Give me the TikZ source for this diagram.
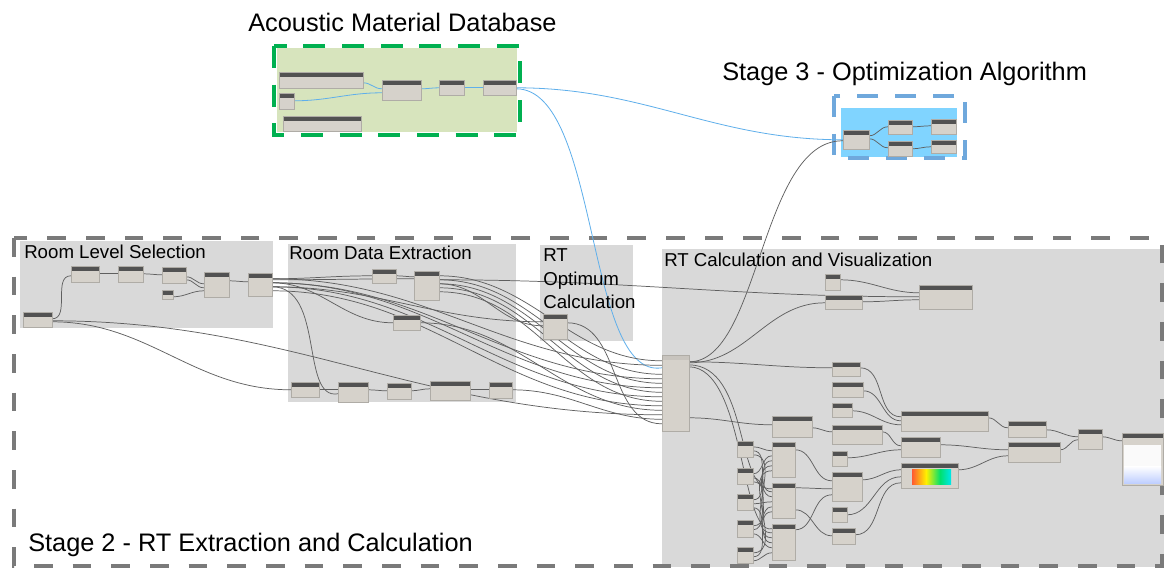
\documentclass[tikz,border=0pt]{standalone}
\usepackage{fontspec}
\setmainfont{Liberation Sans}
\usetikzlibrary{fit,calc}
\definecolor{grnedge}{RGB}{0,176,80}
\definecolor{grnfill}{RGB}{215,228,189}
\definecolor{blueedge}{RGB}{111,168,220}
\definecolor{bluefill}{RGB}{128,212,255}
\definecolor{grayedge}{RGB}{122,122,122}
\definecolor{groupfill}{RGB}{217,217,217}
\definecolor{nodebody}{RGB}{214,210,203}
\definecolor{nodehead}{RGB}{82,82,82}
\definecolor{lighthead}{RGB}{200,196,190}
\definecolor{nodeedge}{RGB}{175,172,166}
\definecolor{wirec}{RGB}{95,95,95}
\definecolor{bluewire}{RGB}{95,175,235}
\definecolor{gOrange}{RGB}{255,90,50}
\definecolor{gYellow}{RGB}{255,240,0}
\definecolor{gGreen}{RGB}{0,225,110}
\definecolor{gCyan}{RGB}{0,230,235}
\pgfdeclarelayer{back}
\pgfdeclarelayer{wires}
\pgfsetlayers{back,wires,main}
\tikzset{
  dyn/.style={draw=nodeedge, line width=0.3pt, fill=nodebody, inner sep=0pt,
    path picture={\fill[nodehead] (path picture bounding box.north west) rectangle ([yshift=-3.6pt]path picture bounding box.north east);}},
  dynlight/.style={path picture={\fill[lighthead] (path picture bounding box.north west) rectangle ([yshift=-3.6pt]path picture bounding box.north east);}},
  wire/.style={draw=wirec, line width=0.55pt},
  bw/.style={draw=bluewire, line width=0.6pt},
  title/.style={font=\fontsize{19}{22}\selectfont, anchor=base west, inner sep=0pt},
  gtitle/.style={font=\fontsize{14}{17}\selectfont, anchor=base west, inner sep=0pt},
  dashgreen/.style={draw=grnedge, line width=3.2pt, dash pattern=on 16.5pt off 12.5pt},
  dashblue/.style={draw=blueedge, line width=3pt, dash pattern=on 15.5pt off 13pt},
  dashgray/.style={draw=grayedge, line width=3.6pt, dash pattern=on 14pt off 15pt},
}
\newcommand\DN[6][]{\node[dyn,#1,fit={(#3,#4)(#5,#6)}] (#2) {};}
\newcommand\W[5][wire]{\draw[#1] ($(#2.north east)+(0,#3)$) to[out=0,in=180] ($(#4.north west)+(0,#5)$);}
\begin{document}
\begin{tikzpicture}[x=0.75pt,y=-0.75pt]
\useasboundingbox (0,0) rectangle (1166,570);

\begin{pgfonlayer}{back}
\fill[white] (0,0) rectangle (1166,570);
\fill[groupfill] (20,241) rectangle (273,328);
\fill[groupfill] (288,244) rectangle (516,402);
\fill[groupfill] (540,245) rectangle (633,341);
\fill[groupfill] (662,249) rectangle (1164,567);
\fill[grnfill] (277,48) rectangle (517,132);
\fill[bluefill] (841,108) rectangle (957,157);
\draw[dashgray] (14,238) rectangle (1162,566);
\draw[dashgreen] (274,46) rectangle (520,135);
\draw[dashblue] (834,96) rectangle (965,158);
\end{pgfonlayer}

% ---------- nodes ----------
% acoustic database
\DN{g1}{279}{72}{363}{88}
\DN{g2}{279}{93}{294}{109}
\DN{g3}{283}{116}{361}{131}
\DN{g4}{382}{80}{421}{100}
\DN{g5}{439}{80}{464}{95}
\DN{g6}{483}{80}{516}{95}
% stage 3
\DN{q1}{843}{130}{869}{149}
\DN{q2}{888}{120}{912}{134}
\DN{q3}{931}{119}{956}{134}
\DN{q4}{888}{141}{912}{156}
\DN{q5}{931}{140}{956}{153}
% room level selection
\DN{sel}{23}{312}{52}{327}
\DN{r1}{71}{266}{99}{282}
\DN{r2}{118}{266}{143}{282}
\DN{r3}{162}{267}{186}{283}
\DN{r4}{162}{290}{173}{299}
\DN{r5}{204}{272}{229}{297}
\DN{r6}{248}{273}{272}{296}
% room data extraction
\DN{d1}{372}{269}{396}{283}
\DN{d2}{414}{271}{439}{300}
\DN{d3}{393}{315}{420}{330}
\DN{b1}{291}{382}{319}{397}
\DN{b2}{338}{382}{368}{402}
\DN{b3}{387}{383}{411}{399}
\DN{b4}{430}{381}{470}{400}
\DN{b5}{489}{382}{512}{398}
% RT optimum
\DN{opt}{543}{314}{567}{339}
% RT calculation and visualization
\DN{t1}{825}{274}{840}{290}
\DN{t2}{825}{295}{862}{309}
\DN{t3}{919}{285}{972}{309}
\DN[dynlight]{big}{662}{355}{689}{431}
\DN{p}{772}{416}{812}{437}
\DN{s1}{737}{441}{753}{457}
\DN{s2}{737}{468}{753}{484}
\DN{s3}{737}{494}{753}{510}
\DN{s4}{737}{520}{753}{537}
\DN{s5}{737}{547}{753}{563}
\DN{m1}{772}{442}{795}{477}
\DN{m2}{772}{483}{795}{518}
\DN{m3}{772}{524}{795}{560}
\DN{nA}{832}{362}{860}{376}
\DN{nB}{832}{382}{863}{397}
\DN{nC}{832}{403}{852}{417}
\DN{nD}{832}{425}{882}{444}
\DN{nE}{832}{451}{847}{466}
\DN{nF}{832}{472}{862}{501}
\DN{nG}{832}{507}{847}{522}
\DN{nH}{832}{528}{855}{544}
\DN{nI}{901}{411}{988}{431}
\DN{nJ}{901}{437}{940}{457}
\DN{nK}{901}{463}{958}{488}
\DN{nL}{1008}{421}{1046}{437}
\DN{nM}{1008}{442}{1060}{462}
\DN{nN}{1078}{429}{1102}{449}
\DN{nO}{1122}{433}{1163}{485}
% colour range and watch 3D contents
\shade[left color=gOrange, right color=gYellow] (912,469) rectangle (926,484);
\shade[left color=gYellow, right color=gGreen] (926,469) rectangle (940,484);
\shade[left color=gGreen, right color=gCyan] (940,469) rectangle (951,484);
\fill[white!96!gray] (1124,445) rectangle (1161,466);
\shade[top color=white, bottom color=cyan!25!blue!25] (1124,466) rectangle (1161,483);

% ---------- wires ----------
\begin{pgfonlayer}{wires}
% database (blue)
\W[bw]{g1}{11}{g4}{9}
\W[bw]{g2}{8}{g4}{13}
\W[bw]{g4}{9}{g5}{8}
\W[bw]{g5}{8}{g6}{8}
\W[bw]{g6}{8}{q1}{10}
\draw[bw] ($(g6.north east)+(0,9)$) .. controls (600,89) and (585,380) .. ($(big.north west)+(0,13)$);
% stage 3
\W{q1}{6}{q2}{7}
\W{q1}{9}{q4}{7}
\W{q2}{7}{q3}{7}
\W{q4}{8}{q5}{7}
% room level selection
\W{sel}{7}{r1}{10}
\W{r1}{8}{r2}{8}
\W{r2}{8}{r3}{8}
\W{r3}{10}{r5}{12}
\W{r3}{13}{r5}{16}
\W{r4}{7}{r5}{19}
\W{r5}{9}{r6}{9}
% from r6
\W{r6}{6}{d1}{7}
\W{r6}{7}{d2}{8}
\W{r6}{10}{d3}{8}
\W{r6}{14}{opt}{8}
\draw[wire] ($(r6.north east)+(0,14)$) .. controls (325,287) and (300,400) .. ($(b2.north west)+(0,12)$);
\foreach \k/\o in {1/6,4/10,6/10,8/14,10/18} {\W{r6}{\o}{big}{6+4.5*\k}}
% from d1, d2, d3
\W{d1}{7}{d2}{6}
\foreach \k/\o in {0/5,3/9,5/13,7/17,9/21} {\W{d2}{\o}{big}{6+4.5*\k}}
\W{d2}{13}{opt}{12}
\W{d2}{9}{t3}{12}
\W{d3}{8}{big}{55.5}
% from sel
\W{sel}{10}{b1}{8}
\W{sel}{9}{big}{60}
% bottom chain
\W{b1}{8}{b2}{8}
\W{b2}{8}{b3}{8}
\W{b3}{8}{b4}{8}
\W{b4}{9}{b5}{8}
\W{b5}{8}{big}{64.5}
\W{opt}{9}{big}{69}
% from big node
\W{big}{7}{nA}{6}
\W{big}{8}{t2}{8}
\draw[wire] ($(big.north east)+(0,7)$) .. controls (760,362) and (760,140) .. ($(q1.north west)+(0,11)$);
\draw[wire] ($(big.north east)+(0,10)$) .. controls (750,366) and (735,492) .. ($(m2.north west)+(0,6)$);
\draw[wire] ($(big.north east)+(0,12)$) .. controls (745,368) and (740,535) .. ($(m3.north west)+(0,5)$);
\W{big}{63}{p}{9}
\W{p}{12}{nD}{7}
\W{t1}{6}{t3}{8}
\W{t2}{7}{t3}{15}
% small to medium column
\foreach \s [count=\i] in {s1,s2,s3,s4,s5} {
  \foreach \m [count=\j] in {m1,m2,m3} {\W{\s}{2+4*\j}{\m}{4+5*\i}}
}
\W{m1}{8}{nF}{9}
\W{m2}{5}{nF}{17}
\W{m3}{6}{nF}{23}
\W{m2}{27}{nH}{8}
% right part
\W{nA}{6}{nI}{6}
\W{nB}{9}{nI}{10}
\W{nC}{8}{nI}{14}
\W{nD}{7}{nJ}{9}
\W{nE}{7}{nJ}{13}
\W{nF}{8}{nK}{7}
\W{nG}{8}{nK}{14}
\W{nH}{7}{nK}{20}
\W{nI}{7}{nL}{7}
\W{nJ}{8}{nM}{8}
\W{nK}{7}{nM}{14}
\W{nL}{9}{nN}{8}
\W{nM}{8}{nN}{11}
\W{nN}{8}{nO}{8}
\end{pgfonlayer}

% ---------- titles ----------
\node[title] (tdb) at (248,32) {Acoustic Material Database};
\node[title] (ts3) at (722,81) {Stage 3 - Optimization Algorithm};
\node[title] (ts2) at (28,551) {Stage 2 - RT Extraction and Calculation};
\node[gtitle] (tlev) at (24,258) {Room Level Selection};
\node[gtitle] (tdat) at (289,259) {Room Data Extraction};
\node[gtitle] (tcal) at (664,267) {RT Calculation and Visualization};
\node[gtitle] (topt1) at (543,262) {RT};
\node[gtitle] (topt2) at (543,285) {Optimum};
\node[gtitle] (topt3) at (543,308) {Calculation};
\end{tikzpicture}
\end{document}
